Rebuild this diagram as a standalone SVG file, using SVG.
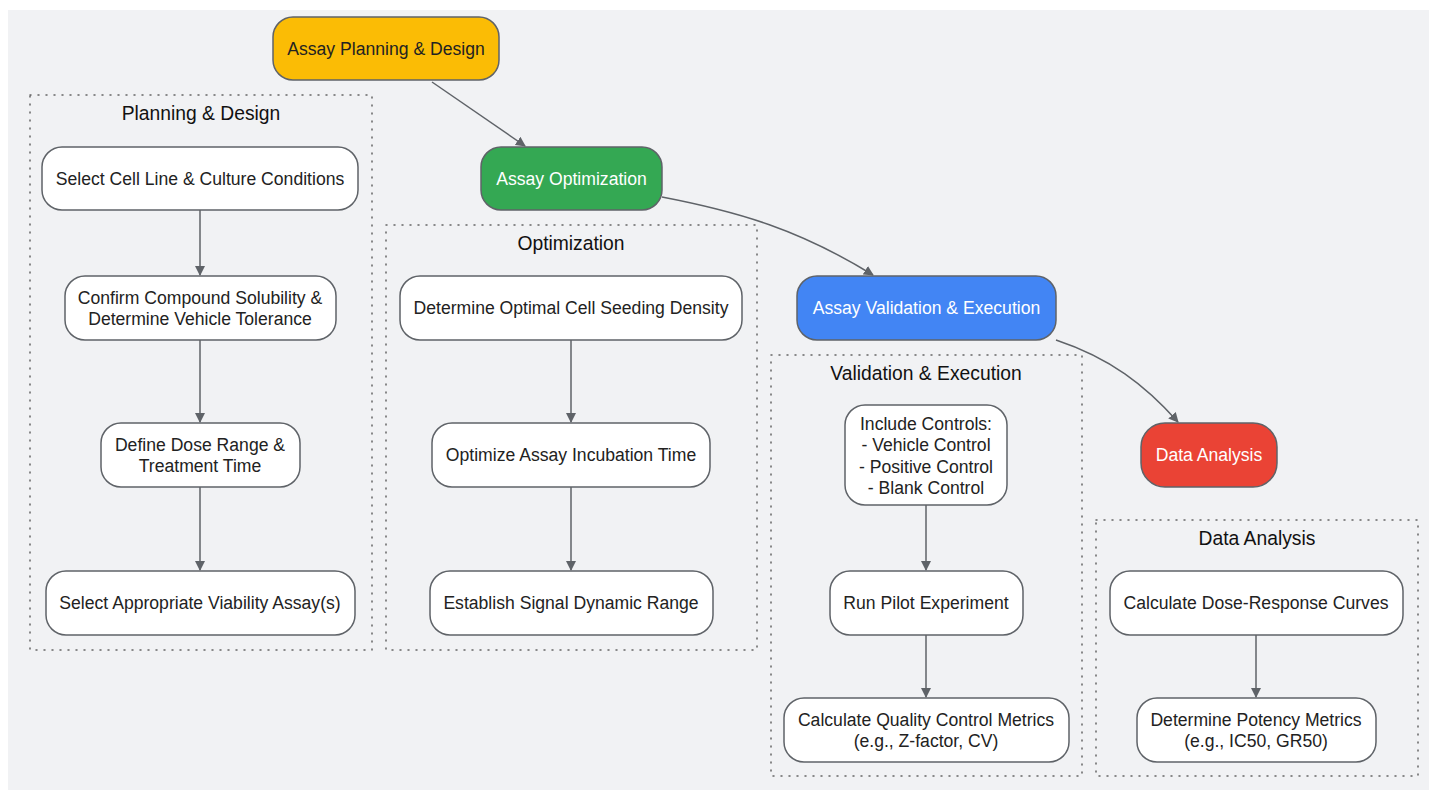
<svg xmlns="http://www.w3.org/2000/svg" width="1429" height="792" viewBox="0 0 1429 792">
<defs>
<style>
.bg{fill:#f1f2f4}
.cl{fill:none;stroke:#666;stroke-width:1.5;stroke-dasharray:1 7;stroke-linecap:round}
.ct{font-family:"Liberation Sans",Arial,sans-serif;font-size:19.3px;fill:#111;text-anchor:middle}
.n{fill:#fff;stroke:#5f6368;stroke-width:1.5}
.t{font-family:"Liberation Sans",Arial,sans-serif;font-size:17.6px;fill:#222;text-anchor:middle}
.w{fill:#fff}
.e{fill:none;stroke:#5f6368;stroke-width:1.5}
</style>
<marker id="ah" viewBox="0 0 10 10" refX="9" refY="5" markerWidth="10" markerHeight="10" markerUnits="userSpaceOnUse" orient="auto">
<path d="M0,0 L10,5 L0,10 z" fill="#5f6368"/>
</marker>
</defs>
<rect x="0" y="0" width="1429" height="792" fill="#fff"/>
<rect class="bg" x="8" y="10" width="1421" height="780"/>

<g id="cluster-planning">
<rect class="cl" x="30" y="95" width="342" height="555"/>
<text class="ct" x="201" y="120">Planning &amp; Design</text>
</g>
<g id="cluster-optimization">
<rect class="cl" x="386" y="225" width="371" height="425"/>
<text class="ct" x="571" y="250">Optimization</text>
</g>
<g id="cluster-validation">
<rect class="cl" x="771" y="355" width="311" height="421"/>
<text class="ct" x="926" y="380">Validation &amp; Execution</text>
</g>
<g id="cluster-analysis">
<rect class="cl" x="1096" y="520" width="322" height="256"/>
<text class="ct" x="1257" y="545">Data Analysis</text>
</g>

<g id="connectors">
<path class="e" d="M432,82 L525,146" marker-end="url(#ah)"/>
<path class="e" d="M662,197 C740,212 800,230 873,275" marker-end="url(#ah)"/>
<path class="e" d="M1056,340 C1110,358 1145,385 1178,422" marker-end="url(#ah)"/>
<path class="e" d="M200,210 L200,275" marker-end="url(#ah)"/>
<path class="e" d="M200,340 L200,422" marker-end="url(#ah)"/>
<path class="e" d="M200,487 L200,570" marker-end="url(#ah)"/>
<path class="e" d="M571,340 L571,422" marker-end="url(#ah)"/>
<path class="e" d="M571,487 L571,570" marker-end="url(#ah)"/>
<path class="e" d="M926,505 L926,570" marker-end="url(#ah)"/>
<path class="e" d="M926,635 L926,697" marker-end="url(#ah)"/>
<path class="e" d="M1256,635 L1256,697" marker-end="url(#ah)"/>
</g>

<g id="n-plan">
<rect x="273" y="17" width="226" height="63" rx="20" fill="#fbbc05" stroke="#5f6368" stroke-width="1.5"/>
<text class="t" x="386" y="55">Assay Planning &amp; Design</text>
</g>
<g id="n-opt">
<rect x="481" y="147" width="181" height="63" rx="20" fill="#34a853" stroke="#5f6368" stroke-width="1.5"/>
<text class="t w" x="571.5" y="185">Assay Optimization</text>
</g>
<g id="n-val">
<rect x="797" y="276" width="259" height="64" rx="20" fill="#4285f4" stroke="#5f6368" stroke-width="1.5"/>
<text class="t w" x="926.5" y="314">Assay Validation &amp; Execution</text>
</g>
<g id="n-da">
<rect x="1141" y="423" width="136" height="64" rx="24" fill="#ea4335" stroke="#5f6368" stroke-width="1.5"/>
<text class="t w" x="1209" y="461">Data Analysis</text>
</g>

<g id="n-p1">
<rect class="n" x="42" y="147" width="316" height="63" rx="20"/>
<text class="t" x="200" y="185">Select Cell Line &amp; Culture Conditions</text>
</g>
<g id="n-p2">
<rect class="n" x="65" y="276" width="271" height="64" rx="20"/>
<text class="t" x="200" y="304">Confirm Compound Solubility &amp;</text>
<text class="t" x="200" y="325">Determine Vehicle Tolerance</text>
</g>
<g id="n-p3">
<rect class="n" x="101" y="423" width="199" height="64" rx="20"/>
<text class="t" x="200" y="451">Define Dose Range &amp;</text>
<text class="t" x="200" y="472">Treatment Time</text>
</g>
<g id="n-p4">
<rect class="n" x="46" y="571" width="309" height="64" rx="20"/>
<text class="t" x="200" y="609">Select Appropriate Viability Assay(s)</text>
</g>

<g id="n-o1">
<rect class="n" x="400" y="276" width="342" height="64" rx="20"/>
<text class="t" x="571" y="314">Determine Optimal Cell Seeding Density</text>
</g>
<g id="n-o2">
<rect class="n" x="432" y="423" width="278" height="64" rx="20"/>
<text class="t" x="571" y="461">Optimize Assay Incubation Time</text>
</g>
<g id="n-o3">
<rect class="n" x="430" y="571" width="283" height="64" rx="20"/>
<text class="t" x="571" y="609">Establish Signal Dynamic Range</text>
</g>

<g id="n-v1">
<rect class="n" x="845" y="405" width="162" height="100" rx="20"/>
<text class="t" x="926" y="430">Include Controls:</text>
<text class="t" x="926" y="451">- Vehicle Control</text>
<text class="t" x="926" y="473">- Positive Control</text>
<text class="t" x="926" y="494">- Blank Control</text>
</g>
<g id="n-v2">
<rect class="n" x="830" y="571" width="193" height="64" rx="20"/>
<text class="t" x="926" y="609">Run Pilot Experiment</text>
</g>
<g id="n-v3">
<rect class="n" x="784" y="698" width="285" height="64" rx="20"/>
<text class="t" x="926" y="726">Calculate Quality Control Metrics</text>
<text class="t" x="926" y="747">(e.g., Z-factor, CV)</text>
</g>

<g id="n-d1">
<rect class="n" x="1110" y="571" width="293" height="64" rx="20"/>
<text class="t" x="1256" y="609">Calculate Dose-Response Curves</text>
</g>
<g id="n-d2">
<rect class="n" x="1137" y="698" width="239" height="64" rx="20"/>
<text class="t" x="1256" y="726">Determine Potency Metrics</text>
<text class="t" x="1256" y="747">(e.g., IC50, GR50)</text>
</g>
</svg>
